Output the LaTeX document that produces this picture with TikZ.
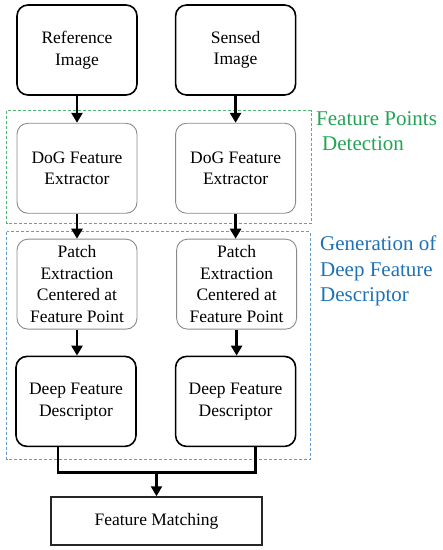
\documentclass[tikz,border=0pt]{standalone}
\usepackage{fontspec}
\setmainfont{Liberation Serif}
\usepackage{tikz}
\usetikzlibrary{positioning,arrows.meta,calc}
\definecolor{stageGreen}{HTML}{23A455}
\definecolor{stageBlue}{HTML}{1E72B8}
\definecolor{boxGray}{HTML}{8A8A8A}
\tikzset{
  block/.style={draw, rounded corners=11pt, minimum width=120pt, minimum height=90pt, align=center, inner sep=2pt, font=\fontsize{17.5}{21.5}\selectfont},
  blockDark/.style={block, draw=black, line width=1.6pt},
  blockLight/.style={block, draw=boxGray, line width=0.9pt},
  blockFlat/.style={block, rounded corners=0pt, draw=black!85, line width=1.5pt, minimum width=211pt, minimum height=48pt},
  arrow/.style={-{Triangle[length=10pt, width=11pt]}, line width=2.6pt},
  mergeLine/.style={line width=2.6pt},
  stageBox/.style={dashed, line width=0.9pt, dash pattern=on 3pt off 2pt},
  stageLabel/.style={align=left, anchor=north west, inner sep=0pt, font=\fontsize{21}{25.5}\selectfont}
}
\begin{document}
\begin{tikzpicture}[x=1pt, y=1pt, node distance=27pt]
  \useasboundingbox (0,0) rectangle (443,-550);

  \node[blockDark] (refImg) at (77,-50) {Reference\\Image};
  \node[blockDark, right=37pt of refImg] (senImg) {Sensed\\Image};

  \node[blockLight, below=27pt of refImg] (dogL) {DoG Feature\\Extractor};
  \node[blockLight, below=27pt of senImg] (dogR) {DoG Feature\\Extractor};

  \node[blockLight, below=25pt of dogL] (patchL) {Patch\\Extraction\\Centered at\\Feature Point};
  \node[blockLight, below=25pt of dogR, xshift=1pt] (patchR) {Patch\\Extraction\\Centered at\\Feature Point};

  \node[blockDark, below=26pt of patchL, xshift=-1pt] (deepL) {Deep Feature\\Descriptor};
  \node[blockDark, below=26pt of patchR, xshift=-1pt] (deepR) {Deep Feature\\Descriptor};

  \node[blockFlat] (match) at (156.5,-521) {Feature Matching};

  % stage frames
  \draw[stageBox, draw=stageGreen!80] ($(dogL.north west)+(-10,12)$) rectangle ($(dogR.south east)+(15,-10)$);
  \draw[stageBox, draw=stageBlue!70] ($(patchL.north west)+(-10,7)$) rectangle ($(deepR.south east)+(14,-12)$);
  \node[stageLabel, text=stageGreen] (lblDetect) at (316,-111) {Feature Points\\\hspace*{6pt}Detection};
  \node[stageLabel, text=stageBlue] (lblDesc) at (320,-236) {Generation of\\Deep Feature\\Descriptor};

  \draw[arrow] (refImg) -- (dogL);
  \draw[arrow] (senImg) -- (dogR);
  \draw[arrow] (dogL) -- (dogL |- patchL.north);
  \draw[arrow] (dogR) -- (dogR |- patchR.north);
  \draw[arrow] (patchL) -- (patchL |- deepL.north);
  \draw[arrow] (patchR) -- (patchR |- deepR.north);

  % merge into matching
  \coordinate (joinL) at ($(deepL.south)+(-18,-25)$);
  \coordinate (joinR) at ($(deepR.south)+(20,-25)$);
  \draw[mergeLine] (deepL.south -| joinL) -- (joinL) -- (joinR) -- (deepR.south -| joinR);
  \draw[arrow] (joinL -| match) -- (match);
\end{tikzpicture}
\end{document}
